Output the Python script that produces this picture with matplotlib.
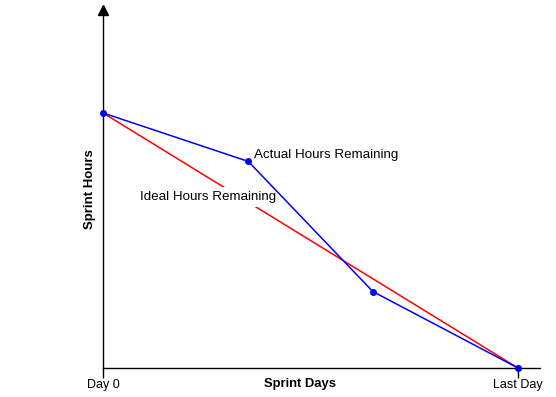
import matplotlib.pyplot as plt
import matplotlib.transforms as mtransforms

plt.rcParams['font.family'] = ['Liberation Sans', 'DejaVu Sans']

days = [0, 10]
day_labels = ['Day 0', 'Last Day']
ideal_days = [0, 10]
ideal_hours = [100, 0]
actual_days = [0, 3.5, 6.5, 10]
actual_hours = [100, 81, 30, 0]

fig = plt.figure(figsize=(5.56, 3.97), dpi=100)
ax = fig.add_axes([0.1853, 0.073, 0.786, 0.902])

ax.plot(ideal_days, ideal_hours, color='red', linewidth=1.1, zorder=2)
ax.plot(actual_days, actual_hours, color='blue', linewidth=1.1, marker='o',
        markersize=4, zorder=4, clip_on=False)

ax.set_xlim(0, 10.53)
ax.set_ylim(0, 140.4)

ax.spines['right'].set_visible(False)
ax.spines['top'].set_visible(False)
ax.spines['left'].set_linewidth(1.0)
ax.spines['bottom'].set_linewidth(1.0)
ax.plot(0, 1, marker='^', color='black', markersize=7, transform=ax.transAxes,
        clip_on=False)

ax.set_xticks(days)
ax.set_xticklabels(day_labels, fontsize=9)
ax.tick_params(axis='x', length=7, width=1.0, pad=1)
ax.set_yticks([])

trans = mtransforms.blended_transform_factory(ax.transData, ax.transAxes)
ax.text(4.75, -0.045, 'Sprint Days', fontsize=9.4, fontweight='bold',
        ha='center', va='center', transform=trans)
ax.set_ylabel('Sprint Hours', fontsize=9.5, fontweight='bold', labelpad=5)

ax.text(3.63, 83.5, 'Actual Hours Remaining', fontsize=9.6, va='center', zorder=5)
ax.text(0.9, 67.0, 'Ideal Hours Remaining', fontsize=9.6, va='center', zorder=3,
        bbox=dict(facecolor='white', edgecolor='none', pad=3))

fig.savefig('out.png', dpi=100)
